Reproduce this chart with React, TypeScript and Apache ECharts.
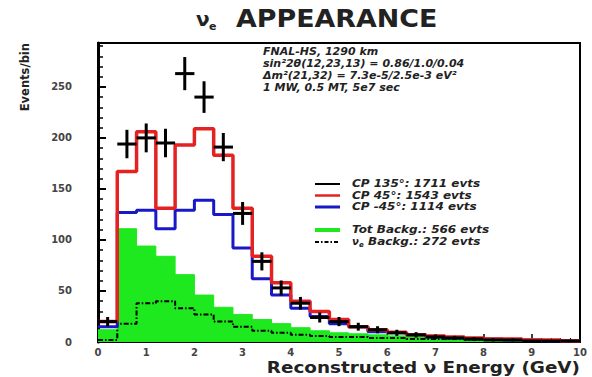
import React, { useEffect, useRef } from "react";
import * as echarts from "echarts";

// Histogram binning: 25 bins of 0.4 GeV between 0 and 10 GeV
const BIN_WIDTH = 0.4;

// Events per bin
const cp135 = [20, 194, 200, 195, 263, 240, 191, 126, 79, 53, 38, 24, 20, 15, 12, 9, 7, 5, 4, 3, 2, 2, 1, 1, 1];
const cp45 = [20, 167, 206, 131, 193, 209, 183, 131, 84, 58, 40, 30, 22, 15, 12, 9.5, 7, 6, 5, 4, 3, 3, 2, 2, 1];
const cpMinus45 = [15, 127, 129, 111, 129, 139, 125, 92, 62, 46, 33, 25, 18, 15, 10, 9, 7, 5, 4, 3, 3, 2, 2, 1, 1];
const totBackg = [12, 111, 94, 84, 66, 46, 34, 27, 22, 18, 14, 11, 9, 8, 7, 6, 5, 5, 4, 4, 3, 3, 2, 2, 2];
const nueBackg = [2, 18, 38, 40, 33, 27, 20, 15, 11, 9, 7, 6, 5, 5, 4, 4, 3, 3, 3, 2, 2, 2, 2, 1, 1];

const legendRows = [
  "CP 135°: 1711 evts",
  "CP 45°: 1543 evts",
  "CP -45°: 1114 evts",
  "Tot Backg.: 566 evts",
  "Backg.: 272 evts",
];

const infoLines = [
  "FNAL-HS, 1290 km",
  "sin²2θ(12,23,13) = 0.86/1.0/0.04",
  "Δm²(21,32) = 7.3e-5/2.5e-3 eV²",
  "1 MW, 0.5 MT, 5e7 sec",
];

const RED = "#e42222";
const BLUE = "#1818c8";
const GREEN = "#1ee81e";
const FONT = "DejaVu Sans";

// Turn per-bin counts into the corner points of a step outline
function steps(vals: number[]): number[][] {
  const pts: number[][] = [];
  vals.forEach((v, i) => {
    pts.push([i * BIN_WIDTH, v], [(i + 1) * BIN_WIDTH, v]);
  });
  return pts;
}

function histLine(name: string, vals: number[], color: string, width: number, z: number, type: any = "solid") {
  return {
    name,
    type: "line",
    data: steps(vals),
    showSymbol: false,
    symbol: "none",
    lineStyle: { color, width, type },
    z,
  };
}

export default function App() {
  const ref = useRef<HTMLDivElement>(null);

  useEffect(() => {
    if (!ref.current) return;
    const chart = echarts.init(ref.current, undefined, { renderer: "svg" });

    const legendX1 = 315;
    const legendX2 = 340;
    const legendTextX = 352;
    const legendY = [184, 195.5, 207, 230, 242];
    const legendStyles: any[] = [
      { stroke: "#000", lineWidth: 2 },
      { stroke: RED, lineWidth: 2.5 },
      { stroke: BLUE, lineWidth: 3 },
      { stroke: GREEN, lineWidth: 4 },
      { stroke: "#000", lineWidth: 2, lineDash: [4, 2, 1.5, 2] },
    ];

    const graphic: any[] = [
      // title
      { type: "text", x: 196, y: 9, style: { text: "ν", font: `bold 20px ${FONT}`, fill: "#222" } },
      { type: "text", x: 209, y: 21, style: { text: "e", font: `bold 11px ${FONT}`, fill: "#222" } },
      { type: "text", x: 236, y: 7, scaleX: 1.12, style: { text: "APPEARANCE", font: `bold 24px ${FONT}`, fill: "#222" } },
      // y axis title
      {
        type: "text",
        x: 25,
        y: 43,
        rotation: Math.PI / 2,
        style: { text: "Events/bin", font: `bold 11.5px ${FONT}`, fill: "#222", align: "right", verticalAlign: "middle" },
      },
      // x axis title
      {
        type: "text",
        x: 580,
        y: 367,
        scaleX: 1.15,
        style: { text: "Reconstructed ν Energy (GeV)", font: `bold 16px ${FONT}`, fill: "#222", align: "right", verticalAlign: "middle" },
      },
    ];

    infoLines.forEach((t, i) => {
      graphic.push({
        type: "text",
        x: 263,
        y: 51 + i * 12.3,
        style: { text: t, font: `italic bold 11px ${FONT}`, fill: "#222", verticalAlign: "middle" },
      });
    });

    legendRows.forEach((t, i) => {
      graphic.push({
        type: "line",
        shape: { x1: legendX1, y1: legendY[i], x2: legendX2, y2: legendY[i] },
        style: legendStyles[i],
      });
      if (i === 4) {
        graphic.push({ type: "text", x: legendTextX, y: legendY[i] - 1, style: { text: "ν", font: `italic bold 10px ${FONT}`, fill: "#222", verticalAlign: "middle" } });
        graphic.push({ type: "text", x: legendTextX + 7, y: legendY[i] + 3, style: { text: "e", font: `italic bold 7px ${FONT}`, fill: "#222", verticalAlign: "middle" } });
        graphic.push({
          type: "text",
          x: legendTextX + 16,
          y: legendY[i],
          scaleX: 1.2,
          style: { text: t, font: `italic bold 10px ${FONT}`, fill: "#222", verticalAlign: "middle" },
        });
      } else {
        graphic.push({
          type: "text",
          x: legendTextX,
          y: legendY[i],
          scaleX: 1.2,
          style: { text: t, font: `italic bold 10px ${FONT}`, fill: "#222", verticalAlign: "middle" },
        });
      }
    });

    const option: any = {
      animation: false,
      backgroundColor: "#fff",
      grid: {
        left: 98,
        right: 12,
        top: 43,
        bottom: 35,
        show: true,
        borderColor: "#000",
        borderWidth: 2,
        containLabel: false,
      },
      xAxis: {
        type: "value",
        min: 0,
        max: 10,
        interval: 1,
        axisLine: { show: true, onZero: false, lineStyle: { color: "#000", width: 2 } },
        axisTick: { show: true, inside: true, length: 8, lineStyle: { color: "#000", width: 1.5 } },
        minorTick: { show: true, splitNumber: 5, length: 4, lineStyle: { color: "#000", width: 1 } },
        splitLine: { show: false },
        axisLabel: { margin: 5, fontFamily: FONT, fontWeight: "bold", fontSize: 10, color: "#444" },
      },
      yAxis: {
        type: "value",
        min: 0,
        max: 293,
        interval: 50,
        axisLine: { show: true, lineStyle: { color: "#000", width: 3 } },
        axisTick: { show: true, inside: true, length: 8, lineStyle: { color: "#000", width: 2 } },
        minorTick: { show: true, splitNumber: 5, length: 5, lineStyle: { color: "#000", width: 1.5 } },
        splitLine: { show: false },
        axisLabel: { margin: 26, showMaxLabel: false, fontFamily: FONT, fontWeight: "bold", fontSize: 10, color: "#444" },
      },
      graphic,
      series: [
        {
          name: "Tot Backg.",
          type: "line",
          data: steps(totBackg),
          showSymbol: false,
          symbol: "none",
          lineStyle: { color: GREEN, width: 1 },
          areaStyle: { color: GREEN, opacity: 1 },
          z: 2,
        },
        histLine("nue Backg.", nueBackg, "#000", 2, 3, [5, 2, 1.5, 2]),
        histLine("CP -45", cpMinus45, BLUE, 3, 4),
        histLine("CP 45", cp45, RED, 3.5, 5),
        {
          name: "CP 135",
          type: "custom",
          data: cp135.map((v, i) => [i * BIN_WIDTH + BIN_WIDTH / 2, v, Math.sqrt(v)]),
          renderItem: (_params: any, api: any) => {
            const x = api.value(0);
            const y = api.value(1);
            const e = api.value(2);
            const l = api.coord([x - BIN_WIDTH / 2, y]);
            const r = api.coord([x + BIN_WIDTH / 2, y]);
            const t = api.coord([x, y + e]);
            const b = api.coord([x, y - e]);
            return {
              type: "group",
              children: [
                { type: "line", shape: { x1: l[0], y1: l[1], x2: r[0], y2: r[1] }, style: { stroke: "#000", lineWidth: 3 } },
                { type: "line", shape: { x1: t[0], y1: t[1], x2: b[0], y2: b[1] }, style: { stroke: "#000", lineWidth: 3 } },
              ],
            };
          },
          z: 10,
        },
      ],
    };

    chart.setOption(option);
    return () => chart.dispose();
  }, []);

  return (
    <div
      ref={ref}
      style={{ position: "fixed", left: 0, top: 0, width: 592, height: 377, background: "#fff" }}
    />
  );
}
